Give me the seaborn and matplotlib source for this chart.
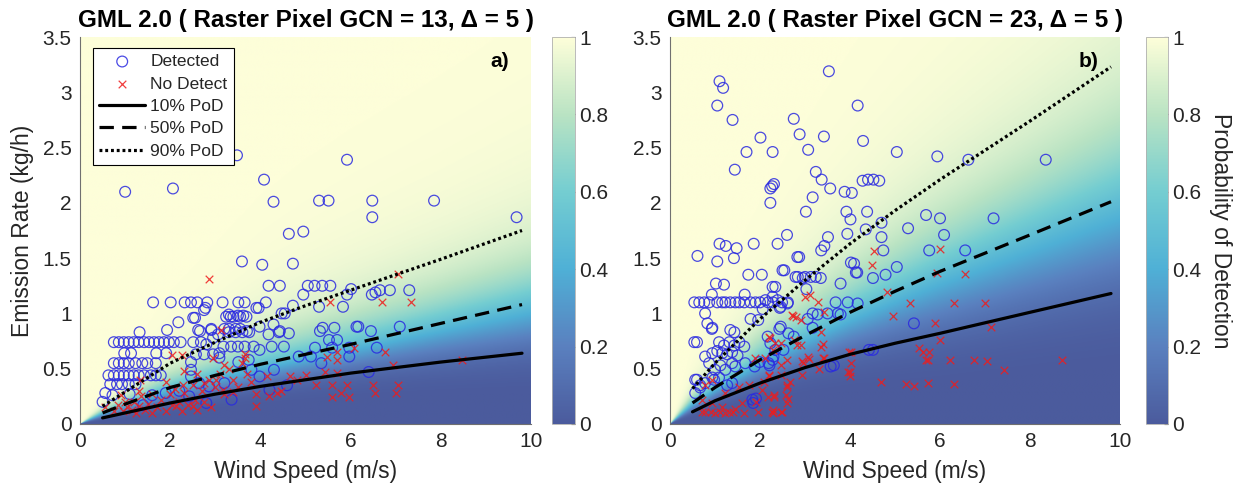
import numpy as np
import matplotlib
matplotlib.use("Agg")
import matplotlib.pyplot as plt
from matplotlib.colors import LinearSegmentedColormap
import seaborn as sns

# ---------------- data ----------------
titles = ["GML 2.0 ( Raster Pixel GCN = 13, \u0394 = 5 )",
          "GML 2.0 ( Raster Pixel GCN = 23, \u0394 = 5 )"]
panel_tags = ["a)", "b)"]

# PoD contour lines (wind speed, emission rate)
a_line_x = [0.5, 1.0, 2.0, 3.0, 4.0, 5.0, 6.0, 8.0, 9.8]
a_pod10 = [0.055, 0.10, 0.19, 0.27, 0.34, 0.40, 0.46, 0.56, 0.64]
a_pod50 = [0.10, 0.18, 0.33, 0.44, 0.54, 0.63, 0.72, 0.91, 1.08]
a_pod90 = [0.16, 0.29, 0.55, 0.74, 0.92, 1.07, 1.21, 1.49, 1.75]

b_line_x = [0.5, 1.0, 2.0, 3.0, 4.0, 5.0, 6.0, 8.0, 9.8]
b_pod10 = [0.11, 0.21, 0.37, 0.51, 0.63, 0.73, 0.82, 1.01, 1.18]
b_pod50 = [0.19, 0.33, 0.58, 0.80, 1.01, 1.20, 1.38, 1.71, 2.01]
b_pod90 = [0.32, 0.55, 0.95, 1.30, 1.63, 1.93, 2.21, 2.74, 3.23]

# Panel a: detected
a_det_x = [1.00, 2.06, 3.48, 4.08, 4.29, 5.92, 5.30, 5.51, 6.48, 6.48, 7.85, 9.68, 4.63, 4.95, 3.59, 4.04, 4.72,
           4.18, 4.43, 5.05, 5.20, 5.37, 5.55, 4.95, 6.01, 5.92, 6.47, 6.55, 6.65, 6.87, 7.30,
           1.62, 2.01, 2.32, 2.46, 2.60, 2.82, 3.16, 3.51, 3.65, 4.12,
           4.72, 4.54, 5.30, 5.83, 2.78, 2.55, 3.30, 3.34, 3.50, 3.62, 3.96, 2.18, 1.32, 1.93, 2.66, 2.91,
           3.20, 3.30, 3.45, 3.55, 3.70, 4.43, 4.29, 5.32, 5.38, 5.64, 6.13, 6.17, 6.45, 7.09,
           5.52, 5.70, 5.21, 5.59, 5.97, 5.12, 5.35, 5.97, 6.58, 6.40, 4.59, 4.85,
           0.75, 0.86, 0.97, 1.08, 1.19, 1.30, 1.42, 1.53, 1.64, 1.75, 1.86, 1.97, 2.08, 2.23,
           0.75, 0.86, 0.97, 1.08, 1.23, 1.38, 1.49, 1.68,
           0.98, 1.13, 1.69, 1.91,
           0.63, 0.75, 0.86, 0.97, 1.08, 1.19, 1.30, 1.42, 1.57, 1.68, 1.79,
           0.67, 0.82, 0.93, 1.08, 1.23, 0.56, 0.72, 0.50,
           2.75, 3.91, 2.51, 3.24, 3.40, 3.55, 3.69, 4.47, 2.62, 2.91, 3.06, 3.30, 3.45, 3.60, 3.75,
           3.98, 4.41, 4.18, 4.63, 2.51, 2.68, 2.80, 2.95, 3.18, 3.35, 3.50, 3.65, 3.85, 3.98, 4.25, 4.52,
           2.57, 2.75, 2.95, 2.46, 2.46, 2.46, 3.09, 3.09, 3.51, 3.74, 3.80, 3.98, 4.30,
           2.64, 2.86, 3.20, 3.36, 2.80, 2.42, 4.20, 1.90, 2.20, 1.60, 1.10, 1.40]
a_det_y = [2.10, 2.13, 2.43, 2.21, 2.01, 2.39, 2.02, 2.02, 2.02, 1.87, 2.02, 1.87, 1.72, 1.74, 1.47, 1.44, 1.45,
           1.25, 1.25, 1.25, 1.25, 1.25, 1.25, 1.17, 1.22, 1.17, 1.17, 1.19, 1.21, 1.21, 1.21,
           1.10, 1.10, 1.10, 1.10, 1.10, 1.10, 1.10, 1.10, 1.10, 1.10,
           1.07, 1.00, 1.06, 1.06, 1.05, 0.96, 0.99, 0.97, 0.98, 0.98, 1.05, 0.92, 0.83, 0.85, 0.84, 0.86,
           0.86, 0.86, 0.86, 0.86, 0.84, 0.84, 0.90, 0.84, 0.87, 0.87, 0.88, 0.88, 0.84, 0.88,
           0.76, 0.76, 0.69, 0.69, 0.69, 0.61, 0.55, 0.61, 0.69, 0.47, 0.35, 0.61,
           0.74, 0.74, 0.74, 0.74, 0.74, 0.74, 0.74, 0.74, 0.74, 0.74, 0.74, 0.74, 0.74, 0.74,
           0.55, 0.55, 0.55, 0.55, 0.55, 0.55, 0.55, 0.55,
           0.64, 0.64, 0.64, 0.64,
           0.44, 0.44, 0.44, 0.44, 0.44, 0.44, 0.44, 0.44, 0.44, 0.44, 0.44,
           0.36, 0.36, 0.36, 0.36, 0.36, 0.28, 0.26, 0.20,
           1.03, 1.05, 0.96, 0.97, 0.97, 0.97, 0.97, 1.00, 0.85, 0.85, 0.81, 0.83, 0.83, 0.83, 0.83,
           0.88, 0.83, 0.81, 0.82, 0.74, 0.74, 0.72, 0.78, 0.70, 0.70, 0.70, 0.70, 0.70, 0.67, 0.70, 0.70,
           0.63, 0.63, 0.63, 0.56, 0.49, 0.43, 0.64, 0.60, 0.56, 0.58, 0.49, 0.43, 0.49,
           0.37, 0.34, 0.37, 0.22, 0.19, 0.25, 0.31, 0.28, 0.30, 0.26, 0.27, 0.17]

# Panel a: no detect
a_nd_x = [2.86, 7.05, 5.55, 6.69, 7.34, 8.48, 6.76, 6.94, 6.08, 5.70, 5.70, 5.48, 5.70, 5.44,
          5.59, 5.93, 5.23, 5.01, 5.59, 5.79, 5.97, 6.49, 6.55, 7.05, 7.00, 4.65,
          3.13, 2.04, 3.65, 3.20, 4.14, 4.36, 4.18, 3.91, 3.18, 3.40, 2.75, 3.02, 2.50, 2.13,
          0.55, 0.75, 0.85, 0.95, 1.00, 1.05, 1.15, 1.20, 1.25, 1.30, 1.35, 1.45, 1.50, 1.60, 1.70,
          1.80, 1.90, 2.00, 2.05, 2.10, 2.20, 2.25, 2.30, 2.40, 2.50, 2.55, 2.60, 2.70, 2.75, 2.85,
          2.90, 3.00, 3.10, 3.20, 3.30, 3.40, 3.50, 3.60, 3.70, 3.80, 2.30, 2.60, 1.30, 1.60, 0.90,
          3.90, 2.95, 2.25, 1.90, 3.65, 2.28, 1.34, 4.45, 4.80]
a_nd_y = [1.31, 1.36, 1.10, 1.10, 1.10, 0.58, 0.65, 0.53, 0.69, 0.65, 0.58, 0.61, 0.46, 0.47,
          0.35, 0.35, 0.35, 0.44, 0.24, 0.28, 0.24, 0.35, 0.28, 0.35, 0.28, 0.43,
          0.85, 0.62, 0.63, 0.53, 0.43, 0.28, 0.25, 0.16, 0.31, 0.29, 0.37, 0.40, 0.16, 0.16,
          0.15, 0.12, 0.17, 0.12, 0.20, 0.15, 0.13, 0.20, 0.10, 0.16, 0.25, 0.13, 0.18, 0.10, 0.15,
          0.22, 0.12, 0.27, 0.17, 0.32, 0.20, 0.12, 0.28, 0.17, 0.35, 0.22, 0.13, 0.30, 0.20, 0.40,
          0.15, 0.33, 0.45, 0.27, 0.50, 0.40, 0.33, 0.55, 0.45, 0.38, 0.48, 0.45, 0.30, 0.27, 0.26,
          0.27, 0.60, 0.62, 0.38, 0.60, 0.35, 0.40, 0.30, 0.40]

# Panel b: detected
b_det_x = [3.53, 1.10, 1.18, 1.05, 4.17, 1.39, 2.75, 2.01, 2.88, 3.42, 4.29, 3.07, 1.70, 2.28, 5.04, 5.94, 6.63, 8.35,
           1.44, 3.24, 3.37, 2.31, 2.27, 2.23, 3.56, 4.28, 4.40, 4.52, 4.65, 3.88, 4.04, 2.23, 3.17,
           3.02, 3.92, 4.01, 4.38, 5.69, 6.00, 7.19, 4.70, 4.35, 5.29, 6.09, 3.94, 2.60, 3.51, 4.70,
           1.10, 1.86, 1.24, 2.39, 3.43, 1.48, 0.61, 1.42, 2.87, 3.36, 4.74, 5.76, 6.56, 1.05, 4.09, 5.04,
           2.54, 4.16, 1.74, 2.04, 2.84, 3.00, 3.24, 4.51, 4.79, 1.02, 1.20, 2.28, 2.34, 3.79, 3.03,
           0.93, 2.28, 1.66,
           0.54, 0.65, 0.76, 0.87, 1.05, 1.16, 1.23, 1.34, 1.45, 1.54, 1.65, 1.79, 1.90, 2.00, 2.18, 2.29,
           2.49, 2.62, 3.68, 3.95, 4.17,
           2.06, 2.44, 0.78, 1.79, 3.06, 3.17, 3.28, 3.50, 3.73, 3.79, 1.96, 0.83, 0.94, 0.93, 1.34, 1.43,
           2.43, 3.17, 2.46, 2.63, 2.75, 5.42,
           0.54, 0.60, 1.09, 1.20, 1.32, 1.43, 1.54, 1.65, 0.94, 1.05, 1.16, 1.27, 1.38, 1.50,
           0.78, 0.87, 1.12, 1.38, 1.67, 1.00, 1.23, 1.45, 1.88, 1.99, 2.21, 2.28,
           0.56, 0.67, 0.78, 0.98, 1.09, 1.27, 1.38, 1.83, 0.56, 4.51, 3.64, 1.91,
           2.83, 2.50, 2.79, 2.95, 3.13, 3.35, 4.02, 4.13, 2.12, 2.39, 2.46, 2.61,
           2.17, 2.23, 2.34, 2.52, 2.30, 2.19, 3.57, 4.42, 0.60, 0.94, 0.67, 1.85]
b_det_y = [3.19, 3.10, 3.04, 2.88, 2.88, 2.75, 2.76, 2.59, 2.62, 2.60, 2.56, 2.48, 2.46, 2.46, 2.46, 2.42, 2.39, 2.39,
           2.30, 2.28, 2.21, 2.17, 2.15, 2.13, 2.13, 2.20, 2.21, 2.21, 2.20, 2.10, 2.09, 2.00, 2.05,
           1.92, 1.92, 1.85, 1.92, 1.89, 1.86, 1.86, 1.82, 1.76, 1.77, 1.71, 1.72, 1.71, 1.69, 1.69,
           1.63, 1.63, 1.61, 1.63, 1.61, 1.59, 1.52, 1.50, 1.51, 1.57, 1.57, 1.57, 1.57, 1.47, 1.45, 1.42,
           1.39, 1.37, 1.35, 1.35, 1.33, 1.33, 1.33, 1.32, 1.35, 1.27, 1.26, 1.24, 1.24, 1.27, 1.22,
           1.17, 1.15, 1.17,
           1.10, 1.10, 1.10, 1.10, 1.10, 1.10, 1.10, 1.10, 1.10, 1.10, 1.10, 1.10, 1.10, 1.10, 1.10, 1.10,
           1.10, 1.10, 1.10, 1.10, 1.09,
           1.04, 1.05, 1.00, 0.95, 0.95, 1.00, 0.99, 1.00, 1.00, 0.99, 0.94, 0.91, 0.87, 0.86, 0.85, 0.83,
           0.86, 0.87, 0.88, 0.82, 0.79, 0.91,
           0.74, 0.74, 0.74, 0.71, 0.74, 0.71, 0.74, 0.70, 0.64, 0.66, 0.64, 0.63, 0.65, 0.62,
           0.61, 0.55, 0.53, 0.55, 0.55, 0.49, 0.49, 0.52, 0.52, 0.56, 0.53, 0.58,
           0.40, 0.35, 0.37, 0.40, 0.42, 0.35, 0.37, 0.22, 0.28, 0.67, 0.53, 0.23,
           1.51, 1.39, 1.33, 1.32, 1.33, 1.32, 1.46, 1.37, 1.12, 1.12, 1.06, 1.09,
           0.79, 0.73, 0.67, 0.67, 0.61, 0.55, 0.52, 0.67, 0.40, 0.42, 0.33, 0.19]

# Panel b: no detect
b_nd_x = [6.00, 4.54, 4.49, 5.94, 6.56, 4.82, 3.10, 5.33, 6.32, 6.99, 4.95, 2.73, 5.89, 7.14, 6.00,
          5.54, 5.63, 5.76, 5.69, 5.74, 6.23, 6.76, 7.05, 8.71, 7.43, 4.03, 4.01, 3.99, 4.68, 5.25, 5.42,
          5.74, 6.32, 3.39, 3.40, 3.08, 2.94, 3.30, 2.94, 2.47, 2.21, 2.49, 2.27, 1.95, 2.62, 2.31, 2.60, 2.66,
          3.01, 3.28, 2.72, 2.90, 2.79, 3.42, 3.35, 2.23, 2.34, 2.46, 2.75, 2.83, 2.90, 3.35, 3.42, 3.06,
          2.95, 3.97, 4.02, 3.95, 2.61, 2.46, 2.19, 2.08, 2.61, 2.57, 2.30, 2.61, 2.28, 2.46,
          2.21, 2.28, 1.88, 2.12, 0.94, 0.78, 1.23, 1.54, 1.76, 2.05, 0.71, 0.94, 1.16, 1.45, 1.61,
          1.90, 2.17, 0.78, 1.00, 1.23, 1.65, 2.28, 0.90, 1.10, 1.30, 1.40, 0.70]
b_nd_y = [1.58, 1.56, 1.44, 1.37, 1.36, 1.19, 1.17, 1.09, 1.09, 1.09, 0.98, 0.98, 0.91, 0.88, 0.76,
          0.69, 0.65, 0.65, 0.58, 0.58, 0.58, 0.58, 0.57, 0.58, 0.49, 0.65, 0.47, 0.43, 0.38, 0.36, 0.34,
          0.37, 0.36, 0.72, 0.60, 0.59, 0.57, 0.50, 0.44, 0.44, 0.44, 0.11, 0.11, 0.11, 0.23, 0.26, 0.33, 0.38,
          1.15, 1.10, 0.99, 0.94, 0.97, 1.01, 0.83, 0.78, 0.73, 0.73, 0.76, 0.71, 0.71, 0.70, 0.60, 0.61,
          0.55, 0.65, 0.55, 0.47, 0.58, 0.53, 0.43, 0.38, 0.35, 0.26, 0.24, 0.19, 0.10, 0.11,
          0.79, 0.67, 0.60, 0.60, 0.40, 0.35, 0.28, 0.33, 0.35, 0.31, 0.22, 0.19, 0.15, 0.14, 0.19,
          0.20, 0.24, 0.11, 0.10, 0.10, 0.10, 0.13, 0.11, 0.11, 0.11, 0.11, 0.11]

panels = [
    dict(lx=a_line_x, p10=a_pod10, p50=a_pod50, p90=a_pod90,
         dx=a_det_x, dy=a_det_y, nx=a_nd_x, ny=a_nd_y),
    dict(lx=b_line_x, p10=b_pod10, p50=b_pod50, p90=b_pod90,
         dx=b_det_x, dy=b_det_y, nx=b_nd_x, ny=b_nd_y),
]

# ---------------- style ----------------
sns.set_style("white")
plt.rcParams["font.family"] = ["Liberation Sans", "DejaVu Sans"]
TXT = "#262626"

cmap = LinearSegmentedColormap.from_list(
    "pod", [(0.0, "#4b5b9d"), (0.2, "#5a80bf"), (0.4, "#4fb0d6"),
            (0.6, "#74cdd1"), (0.8, "#b9e3c3"), (1.0, "#fdfed9")])


def pod_field(lx, p10, p50, p90):
    xs = np.linspace(0.005, 10, 500)
    ys = np.linspace(0.002, 3.5, 400)
    lx = np.asarray(lx)
    q10 = np.interp(xs, lx, p10)
    q50 = np.interp(xs, lx, p50)
    q90 = np.interp(xs, lx, p90)
    lo = xs < lx[0]
    q10[lo] = p10[0] * xs[lo] / lx[0]
    q50[lo] = p50[0] * xs[lo] / lx[0]
    q90[lo] = p90[0] * xs[lo] / lx[0]
    hi = xs > lx[-1]
    for q, p in ((q10, p10), (q50, p50), (q90, p90)):
        slope = (p[-1] - p[-2]) / (lx[-1] - lx[-2])
        q[hi] = p[-1] + slope * (xs[hi] - lx[-1])
    L = np.log(ys)[:, None]
    l10, l50, l90 = np.log(q10)[None, :], np.log(q50)[None, :], np.log(q90)[None, :]
    s = np.where(L < l50, (l50 - l10), (l90 - l50)) / np.log(9.0)
    return 1.0 / (1.0 + np.exp(-(L - l50) / s))


fig = plt.figure(figsize=(12.41, 4.96), dpi=100)
ax_rects = [[0.0645, 0.1452, 0.3634, 0.7802], [0.5399, 0.1452, 0.3626, 0.7802]]
cax_rects = [[0.4448, 0.1452, 0.0185, 0.7802], [0.9234, 0.1452, 0.0180, 0.7802]]

for i, p in enumerate(panels):
    ax = fig.add_axes(ax_rects[i])
    Z = pod_field(p["lx"], p["p10"], p["p50"], p["p90"])
    im = ax.imshow(Z, extent=[0, 10, 0, 3.5], origin="lower", aspect="auto",
                   cmap=cmap, vmin=0, vmax=1, interpolation="bilinear", zorder=0)

    sns.scatterplot(x=p["dx"], y=p["dy"], ax=ax, marker="o", s=60,
                    facecolor="none", edgecolor="#2a2ae0", linewidth=0.9,
                    alpha=0.85, label="Detected", zorder=3)
    sns.scatterplot(x=p["nx"], y=p["ny"], ax=ax, marker="x", s=30,
                    color="#ee1c1c", linewidth=0.9, alpha=0.85,
                    label="No Detect", zorder=3)
    sns.lineplot(x=p["lx"], y=p["p10"], ax=ax, color="black", lw=2.3,
                 label="10% PoD", zorder=4)
    sns.lineplot(x=p["lx"], y=p["p50"], ax=ax, color="black", lw=2.3,
                 linestyle=(0, (4.5, 2.6)), label="50% PoD", zorder=4)
    sns.lineplot(x=p["lx"], y=p["p90"], ax=ax, color="black", lw=2.3,
                 linestyle=(0, (0.9, 0.9)), label="90% PoD", zorder=4)

    ax.set_xlim(0, 10)
    ax.set_ylim(0, 3.5)
    ax.set_xticks([0, 2, 4, 6, 8, 10])
    ax.set_yticks([0, 0.5, 1, 1.5, 2, 2.5, 3, 3.5])
    ax.set_yticklabels(["0", "0.5", "1", "1.5", "2", "2.5", "3", "3.5"])
    ax.tick_params(direction="in", length=4, width=0.8, colors=TXT,
                   labelsize=15, pad=6)
    for side in ("top", "right"):
        ax.spines[side].set_visible(False)
    for side in ("left", "bottom"):
        ax.spines[side].set_color("#707070")
        ax.spines[side].set_linewidth(0.8)
    ax.set_xlabel("Wind Speed (m/s)", fontsize=16.5, color=TXT, labelpad=6)
    if i == 0:
        ax.set_ylabel("Emission Rate (kg/h)", fontsize=16.5, color=TXT, labelpad=6)
    ax.set_title(titles[i], fontsize=17.5, fontweight="bold", color="black", pad=7)
    ax.text(9.3, 3.28, panel_tags[i], fontsize=15, fontweight="bold",
            ha="center", va="center", color="black", zorder=5)

    if i == 0:
        leg = ax.legend(loc="upper left", bbox_to_anchor=(0.029, 0.972),
                        borderaxespad=0, fontsize=12.5, frameon=True,
                        fancybox=False, edgecolor="black", framealpha=1,
                        handlelength=2.65, handletextpad=0.3,
                        labelspacing=0.42, borderpad=0.35)
        leg.get_frame().set_linewidth(0.8)
        for t in leg.get_texts():
            t.set_color(TXT)
    else:
        lg = ax.get_legend()
        if lg is not None:
            lg.remove()

    cax = fig.add_axes(cax_rects[i])
    cb = fig.colorbar(im, cax=cax, ticks=[0, 0.2, 0.4, 0.6, 0.8, 1])
    cb.ax.set_yticklabels(["0", "0.2", "0.4", "0.6", "0.8", "1"])
    cb.ax.tick_params(direction="in", length=3, colors=TXT, labelsize=15, pad=3)
    cb.outline.set_edgecolor("#b0b0b0")
    cb.outline.set_linewidth(0.6)
    if i == 1:
        cb.set_label("Probability of Detection", rotation=-90, fontsize=16.5,
                     color=TXT, labelpad=22)

fig.savefig("out.png", dpi=100)
